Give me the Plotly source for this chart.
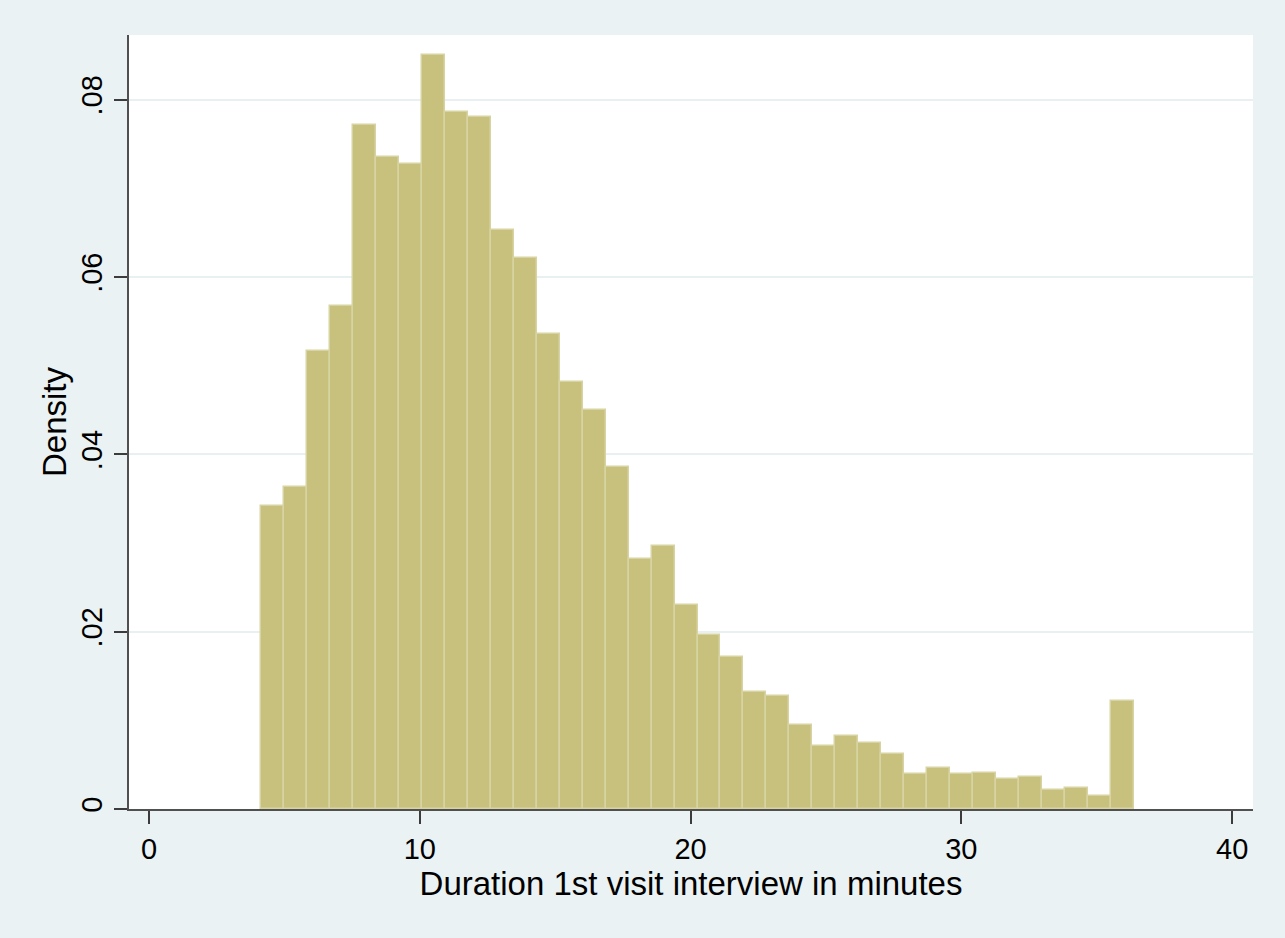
import plotly.graph_objects as go

# Histogram data (density per bin)
bin_start = 4.136
bin_width = 0.8484
density = [0.0342, 0.0363, 0.0517, 0.0567, 0.0771, 0.0735, 0.0727, 0.0850,
           0.0786, 0.0781, 0.0653, 0.0621, 0.0536, 0.0482, 0.0450, 0.0386,
           0.0282, 0.0297, 0.0230, 0.0196, 0.0171, 0.0132, 0.0128, 0.0095,
           0.0071, 0.0082, 0.0074, 0.0062, 0.0039, 0.0046, 0.0039, 0.0041,
           0.0034, 0.0036, 0.0021, 0.0024, 0.0015, 0.0122]
x_ticks = [0, 10, 20, 30, 40]
y_ticks = [0, 0.02, 0.04, 0.06, 0.08]
y_ticklabels = ["0", ".02", ".04", ".06", ".08"]

centers = [bin_start + bin_width * (i + 0.5) for i in range(len(density))]

FONT = "Liberation Sans, Arial, sans-serif"
fig = go.Figure(go.Bar(
    x=centers, y=density, width=bin_width,
    marker=dict(color="rgb(200,193,126)",
                line=dict(color="rgb(216,211,162)", width=1.5)),
))

fig.update_layout(
    width=1285, height=938,
    margin=dict(l=129, r=32, t=35, b=129),
    paper_bgcolor="rgb(234,242,243)",
    plot_bgcolor="white",
    bargap=0,
    showlegend=False,
    font=dict(family=FONT, size=29, color="black"),
    xaxis=dict(
        range=[-0.74, 40.77],
        tickvals=x_ticks,
        ticks="outside", ticklen=13, tickwidth=1.5, tickcolor="rgb(60,60,60)",
        showline=True, linecolor="rgb(80,80,80)", linewidth=2,
        showgrid=False, zeroline=False,
        title=dict(text="Duration 1st visit interview in minutes", standoff=0,
                   font=dict(size=33)),
        tickfont=dict(size=29),
    ),
    yaxis=dict(
        range=[0, 0.0873],
        tickvals=y_ticks, ticktext=y_ticklabels,
        tickangle=-90,
        ticks="outside", ticklen=13, tickwidth=1.5, tickcolor="rgb(60,60,60)",
        showline=True, linecolor="rgb(80,80,80)", linewidth=2,
        showgrid=True, gridcolor="rgb(232,240,242)", gridwidth=1.5,
        zeroline=False,
        title=dict(text="Density", standoff=0, font=dict(size=33)),
        tickfont=dict(size=29),
    ),
)

fig.write_html("out.html")
